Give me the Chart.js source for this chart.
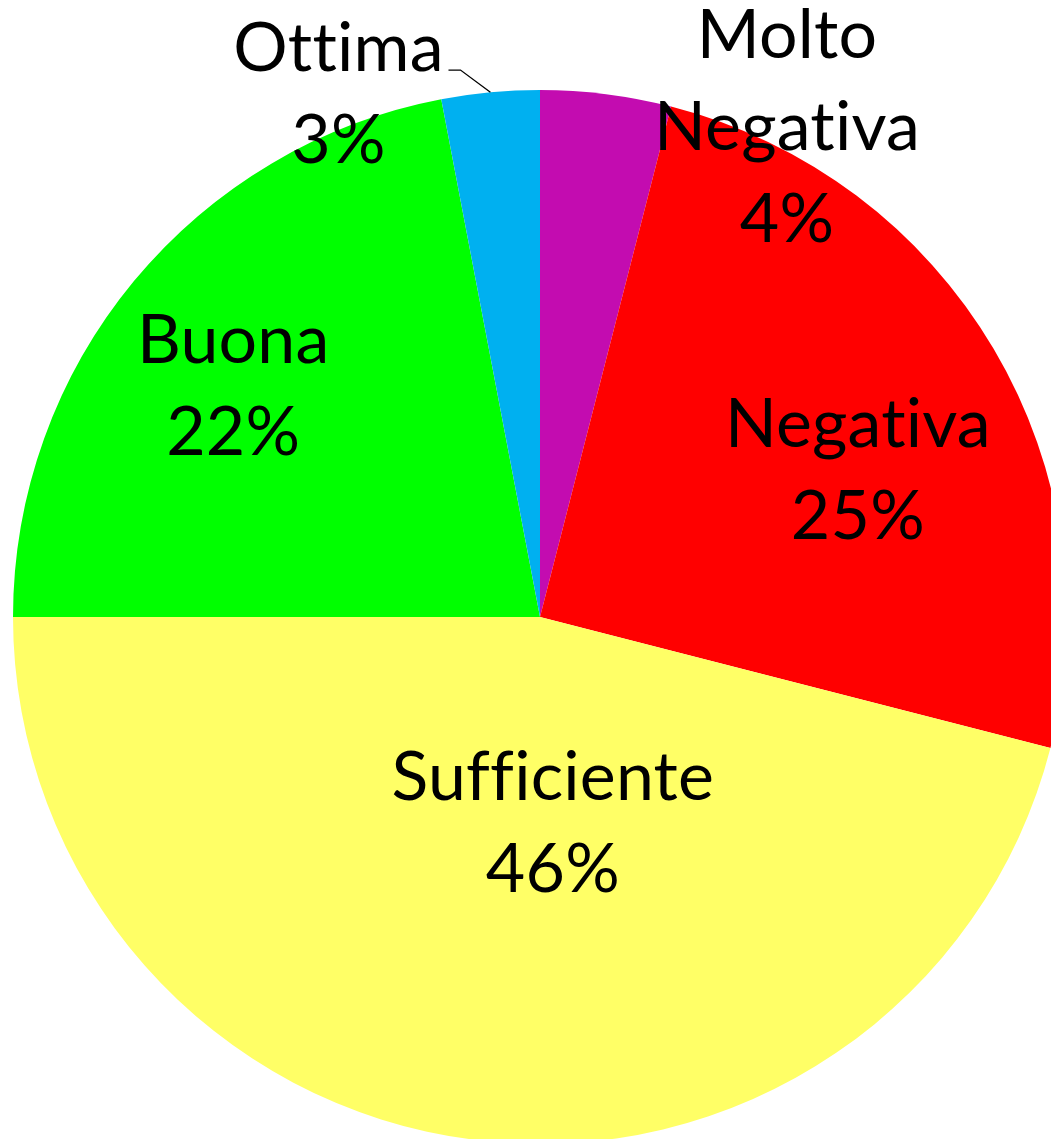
<!DOCTYPE html>
<html lang="it">
<head>
    <meta charset="UTF-8">
    <title>Valutazione</title>
    <script src="https://cdn.jsdelivr.net/npm/chart.js"></script>
    <style>
        html, body {
            margin: 0;
            padding: 0;
            background-color: #ffffff;
            overflow: hidden;
        }
        .chart-container {
            position: absolute;
            left: 0;
            top: 0;
            width: 1080px;
            height: 1234px;
        }
    </style>
</head>
<body>
    <div class="chart-container">
        <canvas id="pieChart"></canvas>
    </div>

    <script>
        // data, clockwise from 12 o'clock
        const categories = ['Molto Negativa', 'Negativa', 'Sufficiente', 'Buona', 'Ottima'];
        const percentages = [4, 25, 46, 22, 3];
        const sliceColors = ['#C30CB0', '#FF0000', '#FFFF66', '#00FF00', '#00B0F0'];

        // label placement: distance (fraction of radius) and angle (deg clockwise from top)
        const labelRadius = [1.043, 0.666, 0.388, 0.730, 1.067];
        const labelAngle = [26.7, 64.9, 176.4, 307.1, 339.0];
        const leaderLine = [false, false, false, false, true];

        const FONT_SIZE = 68;
        const LINE_GAP = 92;

        const labelPlugin = {
            id: 'pieLabels',
            afterDatasetsDraw(chart) {
                const ctx = chart.ctx;
                const arcs = chart.getDatasetMeta(0).data;
                ctx.save();
                ctx.font = FONT_SIZE + 'px Lato';
                // a tiny letter spacing keeps Lato from using its "ti"/"ffi" ligatures
                ctx.letterSpacing = '0.2px';
                ctx.fillStyle = '#000000';
                ctx.textAlign = 'center';
                ctx.textBaseline = 'alphabetic';
                const capH = ctx.measureText('H').actualBoundingBoxAscent;

                arcs.forEach((arc, i) => {
                    const cx = arc.x, cy = arc.y, R = arc.outerRadius;
                    const a = labelAngle[i] * Math.PI / 180;
                    const lx = cx + Math.sin(a) * R * labelRadius[i];
                    const ly = cy - Math.cos(a) * R * labelRadius[i];
                    const lines = categories[i].split(' ').concat([percentages[i] + '%']);
                    const n = lines.length;
                    lines.forEach((txt, j) => {
                        ctx.fillText(txt, lx, ly + capH / 2 + (j - (n - 1) / 2) * LINE_GAP);
                    });

                    if (leaderLine[i]) {
                        const mid = (arc.startAngle + arc.endAngle) / 2;
                        const ex = cx + Math.cos(mid) * R;
                        const ey = cy + Math.sin(mid) * R;
                        const sx = lx + 110, sy = ly - 22;
                        ctx.strokeStyle = '#000000';
                        ctx.lineWidth = 1.3;
                        ctx.beginPath();
                        ctx.moveTo(sx, sy);
                        ctx.lineTo(sx + 12, sy);
                        ctx.lineTo(ex, ey);
                        ctx.stroke();
                    }
                });
                ctx.restore();
            }
        };

        new Chart(document.getElementById('pieChart'), {
            type: 'pie',
            data: {
                labels: categories,
                datasets: [{
                    data: percentages,
                    backgroundColor: sliceColors,
                    borderWidth: 0
                }]
            },
            options: {
                responsive: true,
                maintainAspectRatio: false,
                animation: false,
                layout: {
                    padding: { left: 13, right: 13, top: 90, bottom: 90 }
                },
                plugins: {
                    legend: { display: false },
                    tooltip: { enabled: false }
                }
            },
            plugins: [labelPlugin]
        });
    </script>
</body>
</html>
